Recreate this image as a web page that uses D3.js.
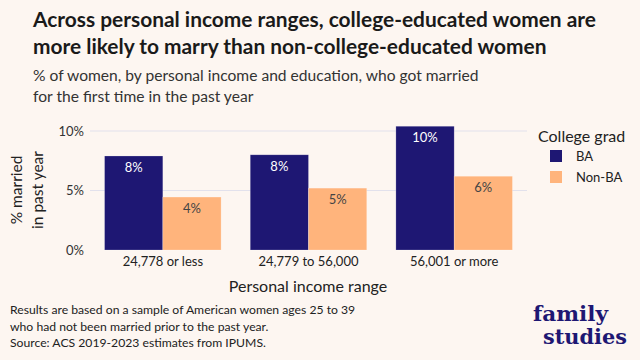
<!DOCTYPE html>
<html><head><meta charset="utf-8">
<script src="https://cdn.jsdelivr.net/npm/d3@7"></script>
<style>
html,body{margin:0;padding:0;background:#fdf6f1;}
svg{display:block;font-family:Lato,"Open Sans",sans-serif;}
</style></head>
<body>
<svg id="chart" width="640" height="360"></svg>
<script>
const categories = ["24,778 or less", "24,779 to 56,000", "56,001 or more"];
const seriesNames = ["BA", "Non-BA"];
const baValues = [7.9, 8.0, 10.4];
const nonBaValues = [4.45, 5.2, 6.2];
const yTicks = [0, 5, 10];
const colors = ["#1e1773", "#ffb47c"];

const svg = d3.select("#chart");
svg.append("rect").attr("width",640).attr("height",360).attr("fill","#fdf6f1");

// Title
const title = svg.append("text").attr("font-weight",700).attr("font-size",20.9).attr("fill","#1a1a1a");
title.append("tspan").attr("x",33).attr("y",27).text("Across personal income ranges, college-educated women are");
title.append("tspan").attr("x",33).attr("y",54).text("more likely to marry than non-college-educated women");
const sub = svg.append("text").attr("font-size",15.6).attr("fill","#333");
sub.append("tspan").attr("x",33).attr("y",81).text("% of women, by personal income and education, who got married");
sub.append("tspan").attr("x",33).attr("y",102).text("for the first time in the past year");

const x0 = d3.scaleBand().domain(categories).range([90,527]).paddingInner(0.2).paddingOuter(0.1);
const x1 = d3.scaleBand().domain(seriesNames).range([0,x0.bandwidth()]);
const y = d3.scaleLinear().domain([0,10]).range([250,131]);

// grid
svg.append("g").selectAll("line").data(yTicks.filter(d=>d>0)).join("line")
  .attr("x1",90).attr("x2",527).attr("y1",d=>y(d)).attr("y2",d=>y(d))
  .attr("stroke","#e2e1ec").attr("stroke-width",1);

// y axis
const yAxis = svg.append("g").attr("transform","translate(90,0)")
  .call(d3.axisLeft(y).tickValues(yTicks).tickFormat(d=>d+"%").tickSize(0).tickPadding(6));
yAxis.select(".domain").remove();
yAxis.selectAll("text").attr("font-size",13).attr("fill","#333").attr("font-family","Lato, sans-serif");

// x axis
const xAxis = svg.append("g").attr("transform","translate(0,250)")
  .call(d3.axisBottom(x0).tickSize(0).tickPadding(7));
xAxis.select(".domain").remove();
xAxis.selectAll("text").attr("font-size",13).attr("fill","#222").attr("font-family","Lato, sans-serif");

const data = categories.map((c,i)=>({cat:c, vals:[{s:"BA",v:baValues[i]},{s:"Non-BA",v:nonBaValues[i]}]}));
const g = svg.append("g").selectAll("g").data(data).join("g")
  .attr("transform",d=>`translate(${x0(d.cat)},0)`);
g.selectAll("rect").data(d=>d.vals).join("rect")
  .attr("x",d=>x1(d.s)).attr("width",x1.bandwidth())
  .attr("y",d=>y(d.v)).attr("height",d=>y(0)-y(d.v))
  .attr("fill",(d,i)=>colors[i]).attr("stroke","rgba(255,255,255,0.35)").attr("stroke-width",0.6);
g.selectAll("text").data(d=>d.vals).join("text")
  .attr("x",d=>x1(d.s)+x1.bandwidth()/2).attr("y",d=>y(d.v)+16)
  .attr("text-anchor","middle").attr("font-size",13)
  .attr("fill",(d,i)=>i===0?"#fff":"#444")
  .text(d=>Math.round(d.v)+"%");

// axis titles
svg.append("text").attr("x",308).attr("y",292).attr("text-anchor","middle")
  .attr("font-size",16).attr("fill","#222").text("Personal income range");
const yt = svg.append("text").attr("transform","translate(0,190) rotate(-90)")
  .attr("text-anchor","middle").attr("font-size",15.5).attr("fill","#222");
yt.append("tspan").attr("x",0).attr("y",22).text("% married");
yt.append("tspan").attr("x",0).attr("y",43).text("in past year");

// legend
svg.append("text").attr("x",538).attr("y",142).attr("font-size",16).attr("fill","#222").text("College grad");
const lg = svg.append("g").selectAll("g").data(seriesNames).join("g")
  .attr("transform",(d,i)=>`translate(550,${150+i*21})`);
lg.append("rect").attr("width",12).attr("height",12).attr("fill",(d,i)=>colors[i]);
lg.append("text").attr("x",26).attr("y",11).attr("font-size",13).attr("fill","#222").text(d=>d);

// footer
const ft = svg.append("text").attr("font-size",12.2).attr("fill","#222");
["Results are based on a sample of American women ages 25 to 39",
 "who had not been married prior to the past year.",
 "Source: ACS 2019-2023 estimates from IPUMS."].forEach((t,i)=>
  ft.append("tspan").attr("x",10).attr("y",314+i*16.5).text(t));

// logo
const logoFont = "'DejaVu Serif', 'Liberation Serif', serif";
svg.append("text").attr("font-family",logoFont).attr("font-weight",700).attr("fill","#1e1773")
  .attr("font-size",19.5).attr("x",533).attr("y",321)
  .attr("textLength",75).attr("lengthAdjust","spacingAndGlyphs").text("family");
svg.append("text").attr("font-family",logoFont).attr("font-weight",700).attr("fill","#1e1773")
  .attr("font-size",19.5).attr("x",543).attr("y",344)
  .attr("textLength",84).attr("lengthAdjust","spacingAndGlyphs").text("studies");
</script>
</body></html>
